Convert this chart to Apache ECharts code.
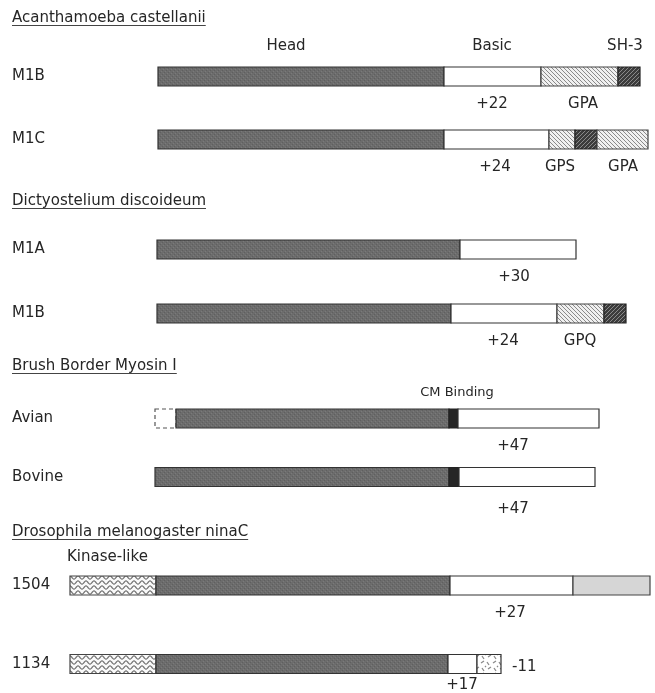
<!DOCTYPE html>
<html>
<head>
<meta charset="utf-8">
<script src="https://cdn.jsdelivr.net/npm/echarts@6/dist/echarts.min.js"></script>
<style>
  html, body { margin: 0; padding: 0; background: #ffffff; }
  #chart { width: 655px; height: 693px; }
</style>
</head>
<body>
<div id="chart"></div>
<script>
// Organism groups and the two myosin I constructs shown under each
const groupTitles = [
  'Acanthamoeba castellanii',
  'Dictyostelium discoideum',
  'Brush Border Myosin I',
  'Drosophila melanogaster ninaC'
];
const rowNames = [
  ['M1B', 'M1C'],
  ['M1A', 'M1B'],
  ['Avian', 'Bovine'],
  ['1504', '1134']
];

// Domain order and lengths along each construct (drawing units, head start = 0)
const acM1B_domains = ['head', 'basic', 'gpa', 'sh3'];
const acM1B_lengths = [286, 97, 77, 22];
const acM1C_domains = ['head', 'basic', 'gpa', 'sh3', 'gpa'];
const acM1C_lengths = [286, 105, 26, 22, 51];
const ddM1A_domains = ['head', 'basic'];
const ddM1A_lengths = [303, 116];
const ddM1B_domains = ['head', 'basic', 'gpa', 'sh3'];
const ddM1B_lengths = [294, 106, 47, 22];
const avian_domains = ['missing', 'head', 'cm', 'basic'];
const avian_lengths = [21, 273, 9, 141];
const bovine_domains = ['head', 'cm', 'basic'];
const bovine_lengths = [294, 10, 136];
const nc1504_domains = ['kinase', 'head', 'basic', 'tail'];
const nc1504_lengths = [86, 294, 123, 77];
const nc1134_domains = ['kinase', 'head', 'basic', 'mottled'];
const nc1134_lengths = [86, 292, 29, 24];

// Where each construct begins on the shared scale
const rowStarts = [0, 0, -1, -1, -3, -3, -88, -88];

// Text set along the constructs: row (0-7), position on the scale, text, placement
const noteRows  = [0, 0, 0, 0, 0, 1, 1, 1, 2, 3, 3, 4, 4, 5, 6, 6, 7, 7];
const noteAt    = [128, 334, 467, 334, 425, 337, 402, 465, 356, 345, 422, 299, 355, 355, -91, 352, 354, 304];
const noteText  = ['Head', 'Basic', 'SH-3', '+22', 'GPA', '+24', 'GPS', 'GPA', '+30', '+24', 'GPQ',
                   'CM Binding', '+47', '+47', 'Kinase-like', '+27', '-11', '+17'];
const notePlace = ['above', 'above', 'above', 'below', 'below', 'below', 'below', 'below', 'below', 'below', 'below',
                   'aboveSmall', 'below', 'low', 'aboveLeft', 'below', 'right', 'under'];

const rowDomains = [acM1B_domains, acM1C_domains, ddM1A_domains, ddM1B_domains,
                    avian_domains, bovine_domains, nc1504_domains, nc1134_domains];
const rowLengths = [acM1B_lengths, acM1C_lengths, ddM1A_lengths, ddM1B_lengths,
                    avian_lengths, bovine_lengths, nc1504_lengths, nc1134_lengths];

// ---- fill textures ----
function tile(w, h, draw) {
  const c = document.createElement('canvas');
  c.width = w; c.height = h;
  draw(c.getContext('2d'), w, h);
  return c;
}
const headTile = tile(4, 4, (g, w, h) => {
  g.fillStyle = '#6c6c6c'; g.fillRect(0, 0, w, h);
  g.fillStyle = '#5f5f5f'; g.fillRect(0, 0, 1, 1); g.fillRect(2, 2, 1, 1);
  g.fillStyle = '#7a7a7a'; g.fillRect(3, 1, 1, 1); g.fillRect(1, 3, 1, 1);
});
const hatchLight = tile(4, 4, (g, w, h) => {
  g.fillStyle = '#f0f0f0'; g.fillRect(0, 0, w, h);
  g.strokeStyle = '#8a8a8a'; g.lineWidth = 1;
  g.beginPath();
  g.moveTo(-1, -1); g.lineTo(w + 1, h + 1);
  g.moveTo(w - 1, -1); g.lineTo(w + 1, 1);
  g.moveTo(-1, h - 1); g.lineTo(1, h + 1);
  g.stroke();
});
const hatchDark = tile(4, 4, (g, w, h) => {
  g.fillStyle = '#3c3c3c'; g.fillRect(0, 0, w, h);
  g.strokeStyle = '#8a8a8a'; g.lineWidth = 1;
  g.beginPath();
  g.moveTo(-1, h + 1); g.lineTo(w + 1, -1);
  g.moveTo(-1, 1); g.lineTo(1, -1);
  g.moveTo(w - 1, h + 1); g.lineTo(w + 1, h - 1);
  g.stroke();
});
const waveTile = tile(8, 5, (g, w, h) => {
  g.fillStyle = '#fafafa'; g.fillRect(0, 0, w, h);
  g.strokeStyle = '#6f6f6f'; g.lineWidth = 1.2;
  g.beginPath();
  for (let x = -0.5; x <= w + 0.5; x += 0.5) {
    const y = 2.5 + 1.6 * Math.sin(2 * Math.PI * x / w);
    if (x === -0.5) g.moveTo(x, y); else g.lineTo(x, y);
  }
  g.stroke();
});
const mottleTile = tile(12, 12, (g, w, h) => {
  g.fillStyle = '#ffffff'; g.fillRect(0, 0, w, h);
  g.strokeStyle = '#8a8a8a'; g.lineWidth = 1.3;
  g.beginPath();
  g.moveTo(1, 3); g.lineTo(4, 1);
  g.moveTo(7, 2); g.lineTo(9, 5);
  g.moveTo(2, 8); g.lineTo(4, 11);
  g.moveTo(8, 9); g.lineTo(11, 7);
  g.moveTo(5, 6); g.lineTo(6, 7);
  g.stroke();
});

const pat = (img) => ({ image: img, repeat: 'repeat' });
const kindStyles = {
  head:    { fill: pat(headTile),   stroke: '#333333' },
  basic:   { fill: '#ffffff',       stroke: '#333333' },
  gpa:     { fill: pat(hatchLight), stroke: '#444444' },
  sh3:     { fill: pat(hatchDark),  stroke: '#222222' },
  cm:      { fill: '#262626',       stroke: '#222222' },
  kinase:  { fill: pat(waveTile),   stroke: '#444444' },
  tail:    { fill: '#d6d6d6',       stroke: '#444444' },
  mottled: { fill: pat(mottleTile), stroke: '#333333' },
  missing: { fill: 'none',          stroke: '#555555', lineDash: [4, 3] }
};
const kindList = Object.keys(kindStyles);

const FONT = '"DejaVu Sans", "Liberation Sans", sans-serif';
const TEXT_COLOR = '#262626';
const BAR_H = 19;

// Vertical offsets / alignment for each text placement
const placeStyle = {
  above:      { dy: -30, align: 'center', size: 15 },
  aboveSmall: { dy: -26, align: 'center', size: 13 },
  aboveLeft:  { dy: -28, align: 'left',   size: 15 },
  below:      { dy: 28,  align: 'center', size: 15 },
  low:        { dy: 32,  align: 'center', size: 15 },
  under:      { dy: 21,  align: 'center', size: 15 },
  right:      { dy: 3,   align: 'left',   size: 15 }
};

// Grid layout for the four organism blocks (first and second row centre lines)
const gridBoxes = [
  { top: 76.5,  height: 63 },
  { top: 249.5, height: 64 },
  { top: 418.5, height: 58.5 },
  { top: 585.5, height: 78.5 }
];
const titleY = [18, 201, 366, 532];

// Build segment data per block: [rowInBlock, start, end, kindIndex]
const segData = [[], [], [], []];
rowDomains.forEach((domains, r) => {
  let pos = rowStarts[r];
  domains.forEach((kind, i) => {
    const end = pos + rowLengths[r][i];
    segData[Math.floor(r / 2)].push([r % 2, pos, end, kindList.indexOf(kind)]);
    pos = end;
  });
});
const noteData = [[], [], [], []];
noteRows.forEach((r, i) => {
  noteData[Math.floor(r / 2)].push([r % 2, noteAt[i], i]);
});

const grids = [], xAxes = [], yAxes = [], series = [];
gridBoxes.forEach((box, gi) => {
  grids.push({ left: 70, right: 5, top: box.top, height: box.height });
  xAxes.push({ type: 'value', gridIndex: gi, min: -88, max: 492, show: false });
  yAxes.push({
    type: 'category', gridIndex: gi, inverse: true, data: rowNames[gi], boundaryGap: false,
    axisLine: { show: false }, axisTick: { show: false }, splitLine: { show: false },
    axisLabel: {
      align: 'left', margin: 58, fontFamily: FONT, fontSize: 15, color: TEXT_COLOR,
      padding: [0, 0, 4, 0]
    }
  });
  series.push({
    type: 'custom', xAxisIndex: gi, yAxisIndex: gi, clip: false,
    encode: { x: [1, 2], y: 0 },
    data: segData[gi],
    renderItem: (params, api) => {
      const row = api.value(0);
      const p0 = api.coord([api.value(1), row]);
      const p1 = api.coord([api.value(2), row]);
      const st = kindStyles[kindList[api.value(3)]];
      return {
        type: 'rect',
        shape: { x: p0[0], y: p0[1] - BAR_H / 2, width: p1[0] - p0[0], height: BAR_H },
        style: { fill: st.fill, stroke: st.stroke, lineWidth: 1.2, lineDash: st.lineDash || null }
      };
    }
  });
  series.push({
    type: 'custom', xAxisIndex: gi, yAxisIndex: gi, clip: false, silent: true,
    encode: { x: 1, y: 0 },
    data: noteData[gi],
    renderItem: (params, api) => {
      const p = api.coord([api.value(1), api.value(0)]);
      const idx = api.value(2);
      const ps = placeStyle[notePlace[idx]];
      return {
        type: 'text',
        x: p[0], y: p[1] + ps.dy,
        style: {
          text: noteText[idx], fill: TEXT_COLOR,
          font: ps.size + 'px ' + FONT,
          align: ps.align, verticalAlign: 'middle'
        }
      };
    }
  });
});

// Underlined block titles
const measureCtx = document.createElement('canvas').getContext('2d');
measureCtx.font = '15px ' + FONT;
const graphics = [];
groupTitles.forEach((t, i) => {
  const w = measureCtx.measureText(t).width;
  graphics.push({
    type: 'text', x: 12, y: titleY[i],
    style: { text: t, font: '15px ' + FONT, fill: TEXT_COLOR, verticalAlign: 'middle' }
  });
  graphics.push({
    type: 'line',
    shape: { x1: 12, y1: titleY[i] + 7.5, x2: 12 + w, y2: titleY[i] + 7.5 },
    style: { stroke: '#444444', lineWidth: 1 }
  });
});

const chart = echarts.init(document.getElementById('chart'), null, { renderer: 'canvas' });
chart.setOption({
  animation: false,
  backgroundColor: '#ffffff',
  grid: grids,
  xAxis: xAxes,
  yAxis: yAxes,
  series: series,
  graphic: graphics
});
</script>
</body>
</html>
